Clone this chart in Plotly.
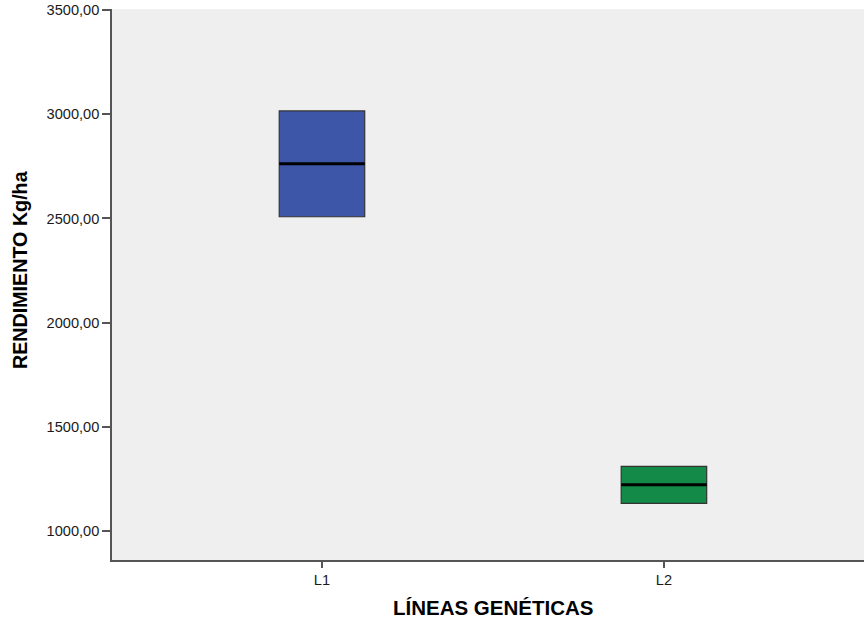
import plotly.graph_objects as go

categories = ["L1", "L2"]
positions = [0, 1]
q1 = [2508, 1133]
median = [2763, 1222]
q3 = [3016, 1310]
lower = [2508, 1133]
upper = [3016, 1310]
colors = ["#3d56a8", "#138a47"]
y_ticks = [1000, 1500, 2000, 2500, 3000, 3500]
box_w = 0.25

fig = go.Figure()
for i, cat in enumerate(categories):
    fig.add_trace(go.Box(
        x=[positions[i]], q1=[q1[i]], median=[median[i]], q3=[q3[i]],
        lowerfence=[lower[i]], upperfence=[upper[i]],
        width=box_w, fillcolor=colors[i],
        line=dict(color="#333333", width=1.2),
        whiskerwidth=0.5, name=cat, showlegend=False, hoverinfo="skip",
    ))
    fig.add_trace(go.Scatter(
        x=[positions[i] - box_w / 2, positions[i] + box_w / 2],
        y=[median[i], median[i]], mode="lines",
        line=dict(color="#000000", width=3), showlegend=False, hoverinfo="skip",
    ))

axis_font = dict(family="Liberation Sans, Arial, sans-serif", size=14.6, color="#1a1a1a")
title_font = dict(family="Liberation Sans, Arial, sans-serif", size=20.5, color="#000000")
ytitle_font = dict(family="Liberation Sans, Arial, sans-serif", size=19.7, color="#000000")

fig.update_layout(
    width=864, height=622,
    margin=dict(l=112, r=0, t=9, b=62),
    paper_bgcolor="white", plot_bgcolor="#efefef",
    separators=",.",
    xaxis=dict(
        range=[-0.614, 1.585], tickvals=positions, ticktext=categories,
        showline=True, linecolor="#555555", linewidth=1.5,
        ticks="outside", ticklen=6, tickcolor="#555555", tickwidth=1.5,
        showgrid=False, zeroline=False, tickfont=axis_font,
    ),
    yaxis=dict(
        range=[861, 3505], tickvals=y_ticks, tickformat=".2f",
        showline=True, linecolor="#555555", linewidth=1.5,
        ticks="outside", ticklen=8, tickcolor="#555555", tickwidth=1.5,
        showgrid=False, zeroline=False, tickfont=axis_font,
    ),
    annotations=[
        dict(text="<b>LÍNEAS GENÉTICAS</b>", xref="paper", yref="paper",
             x=0.5066, y=-0.0853, xanchor="center", yanchor="middle",
             showarrow=False, font=title_font),
        dict(text="<b>RENDIMIENTO Kg/ha</b>", xref="paper", yref="paper",
             x=-0.1223, y=0.5263, xanchor="center", yanchor="middle",
             textangle=-90, showarrow=False, font=ytitle_font),
    ],
)

fig.write_html("out.html")
